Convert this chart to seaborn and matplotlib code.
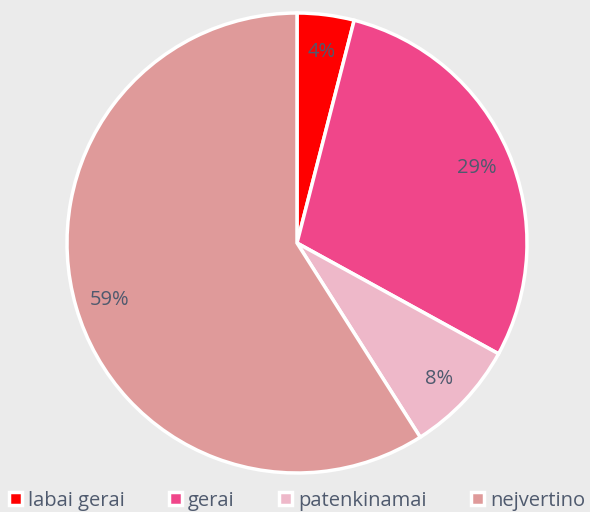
import matplotlib.pyplot as plt
import seaborn as sns

# categories and their shares (percent)
labels = ['labai gerai', 'gerai', 'patenkinamai', 'nejvertino']
shares = [4, 29, 8, 59]
colors = ['#ff0000', '#f0468a', '#eeb8c9', '#df9a9a']

sns.set_style('white', {'axes.facecolor': '#ebebeb', 'figure.facecolor': '#ebebeb'})
plt.rcParams['font.family'] = ['Open Sans', 'DejaVu Sans']
text_color = '#4f5a6e'

fig = plt.figure(figsize=(5.9, 5.12), dpi=100)
ax = fig.add_axes([67 / 590, 39 / 512, 460 / 590, 460 / 512])

wedges, texts, autotexts = ax.pie(
    shares, colors=colors, startangle=90, counterclock=False,
    autopct='%1.0f%%', pctdistance=0.85, radius=1,
    wedgeprops={'edgecolor': 'white', 'linewidth': 2.5},
    textprops={'color': text_color, 'fontsize': 14.5},
)
for t in autotexts:
    t.set_va('center_baseline')
ax.set_xlim(-1, 1)
ax.set_ylim(-1, 1)
ax.set_aspect('equal')
ax.axis('off')

leg = fig.legend(
    wedges, labels, loc='center', bbox_to_anchor=(0.503, 0.022), ncol=4,
    frameon=False, fontsize=14.5, handlelength=0.65, handleheight=0.65,
    handletextpad=0.3, columnspacing=2.2, labelcolor=text_color,
    borderaxespad=0, borderpad=0,
)

fig.savefig('out.png', dpi=100, facecolor='#ebebeb')
